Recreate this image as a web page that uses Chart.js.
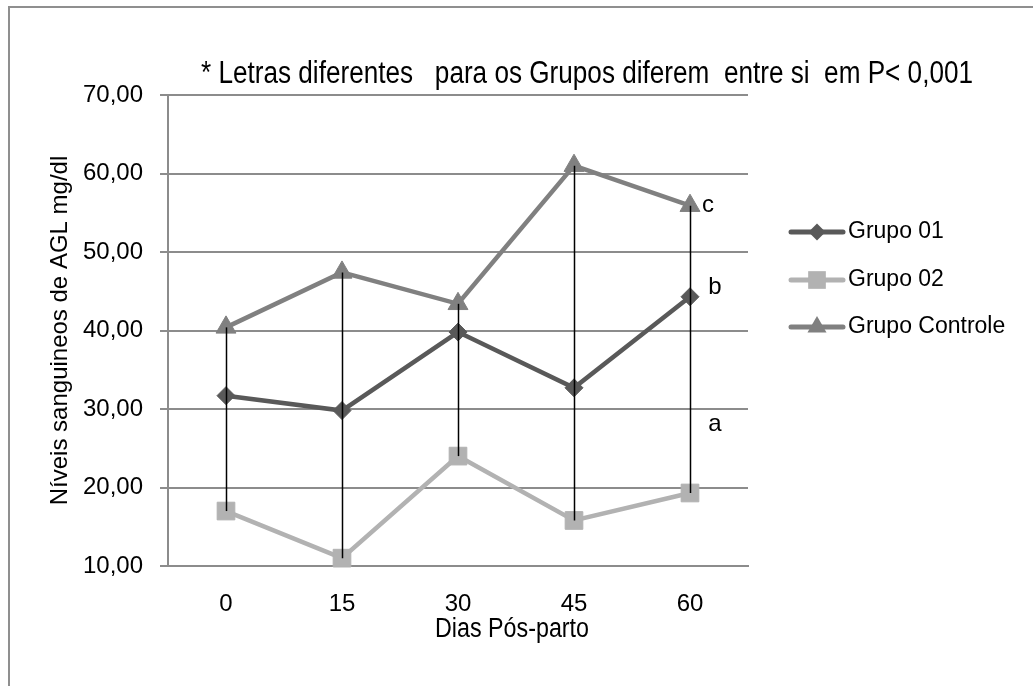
<!DOCTYPE html>
<html>
<head>
<meta charset="utf-8">
<script src="https://cdn.jsdelivr.net/npm/chart.js@4.4.0/dist/chart.umd.min.js"></script>
<style>
  html, body { margin: 0; padding: 0; background: #ffffff; overflow: hidden; }
  #wrap { position: relative; width: 1033px; height: 686px; }
</style>
</head>
<body>
<div id="wrap"><canvas id="agl_chart"></canvas></div>
<script>
// dados
let dias = ['0', '15', '30', '45', '60'];
let grupo01 = [31.7, 29.8, 39.8, 32.7, 44.3];
let grupo02 = [17.0, 11.0, 24.0, 15.8, 19.3];
let grupoControle = [40.4, 47.4, 43.4, 61.0, 55.9];
let yTicks = [10, 20, 30, 40, 50, 60, 70];
let letras = ['c', 'b', 'a'];
let letrasValor = [56.0, 45.5, 28.0];

let titulo = '* Letras diferentes   para os Grupos diferem  entre si  em P< 0,001';
let tituloX = 'Dias P\u00f3s-parto';
let tituloY = 'N\u00edveis sanguineos de AGL mg/dl';

let cores = { g01: '#595959', g02: '#b2b2b2', ctrl: '#808080', grid: '#8c8c8c' };
let fonte = "'Liberation Sans', Arial, sans-serif";

function fmt(v) {
    return v.toFixed(2).replace('.', ',');
}

function drawMarker(ctx, style, x, y, r, color) {
    ctx.save();
    ctx.fillStyle = color;
    ctx.beginPath();
    if (style === 'rectRot') {
        ctx.moveTo(x - r, y);
        ctx.lineTo(x, y - r);
        ctx.lineTo(x + r, y);
        ctx.lineTo(x, y + r);
    } else if (style === 'rect') {
        let s = r * Math.SQRT1_2;
        ctx.rect(x - s, y - s, 2 * s, 2 * s);
    } else {
        ctx.moveTo(x, y - r);
        ctx.lineTo(x + r * Math.sin(Math.PI / 3), y + r / 2);
        ctx.lineTo(x - r * Math.sin(Math.PI / 3), y + r / 2);
    }
    ctx.closePath();
    ctx.fill();
    ctx.restore();
}

let extras = {
    id: 'extras',
    beforeDraw(chart) {
        // moldura cinza (cortada a direita e embaixo)
        let ctx = chart.ctx;
        ctx.save();
        ctx.strokeStyle = '#8f8f8f';
        ctx.lineWidth = 2;
        ctx.strokeRect(9, 7, 1200, 900);
        ctx.restore();
    },
    afterDatasetsDraw(chart) {
        // linhas max-min em cada dia
        let ctx = chart.ctx;
        let xs = chart.scales.x, ys = chart.scales.y;
        ctx.save();
        ctx.strokeStyle = '#000000';
        ctx.lineWidth = 1.5;
        dias.forEach(function(d, i) {
            let vals = [grupo01[i], grupo02[i], grupoControle[i]];
            let x = Math.round(xs.getPixelForValue(i)) + 0.5;
            ctx.beginPath();
            ctx.moveTo(x, ys.getPixelForValue(Math.max(...vals)));
            ctx.lineTo(x, ys.getPixelForValue(Math.min(...vals)));
            ctx.stroke();
        });
        ctx.restore();
    },
    afterDraw(chart) {
        let ctx = chart.ctx;
        let xs = chart.scales.x, ys = chart.scales.y;
        ctx.save();
        ctx.fillStyle = '#000000';
        ctx.textBaseline = 'middle';

        // titulo (fonte estreita -> comprimido com maxWidth)
        ctx.textAlign = 'center';
        ctx.font = '31px ' + fonte;
        ctx.fillText(titulo, 587, 74, 772);

        // titulo do eixo x
        ctx.font = '27px ' + fonte;
        ctx.fillText(tituloX, 512, 630, 154);

        // letras de significancia
        ctx.font = '24px ' + fonte;
        let xLast = xs.getPixelForValue(dias.length - 1);
        letras.forEach(function(l, i) {
            ctx.fillText(l, xLast + (i === 0 ? 18 : 25), ys.getPixelForValue(letrasValor[i]));
        });

        // legenda
        let itens = [
            { label: 'Grupo 01', color: cores.g01, style: 'rectRot', r: 8.5 },
            { label: 'Grupo 02', color: cores.g02, style: 'rect', r: 12.5 },
            { label: 'Grupo Controle', color: cores.ctrl, style: 'triangle', r: 11 }
        ];
        let legY = [232, 280, 327];
        ctx.textAlign = 'left';
        ctx.font = '23px ' + fonte;
        itens.forEach(function(it, i) {
            let y = legY[i];
            ctx.strokeStyle = it.color;
            ctx.lineWidth = 5;
            ctx.lineCap = 'round';
            ctx.beginPath();
            ctx.moveTo(791, y);
            ctx.lineTo(843, y);
            ctx.stroke();
            drawMarker(ctx, it.style, 817, y, it.r, it.color);
            ctx.fillStyle = '#000000';
            ctx.fillText(it.label, 848, y);
        });
        ctx.restore();
    }
};

function serie(label, data, color, style, r) {
    return {
        label: label,
        data: data,
        borderColor: color,
        backgroundColor: color,
        borderWidth: 4.5,
        tension: 0,
        pointStyle: style,
        pointRadius: r,
        pointBackgroundColor: color,
        pointBorderColor: color,
        pointBorderWidth: 1,
        clip: false
    };
}

let config = {
    type: 'line',
    data: {
        labels: dias,
        datasets: [
            serie('Grupo 01', grupo01, cores.g01, 'rectRot', 9),
            serie('Grupo 02', grupo02, cores.g02, 'rect', 12.5),
            serie('Grupo Controle', grupoControle, cores.ctrl, 'triangle', 11.5)
        ]
    },
    options: {
        responsive: true,
        maintainAspectRatio: false,
        animation: false,
        layout: { padding: { left: 0, top: 95, right: 285, bottom: 60 } },
        plugins: {
            legend: { display: false },
            tooltip: { enabled: false },
            title: { display: false }
        },
        scales: {
            y: {
                min: 10,
                max: 70,
                afterFit: function(scale) { scale.width = 168; },
                afterBuildTicks: function(scale) {
                    scale.ticks = yTicks.map(function(v) { return { value: v }; });
                },
                grid: { color: cores.grid, lineWidth: 2, tickLength: 8, drawTicks: true },
                border: { color: cores.grid, width: 2 },
                ticks: {
                    padding: 17,
                    color: '#000000',
                    font: { family: fonte, size: 24 },
                    callback: function(v) { return fmt(v); }
                },
                title: {
                    display: true,
                    text: tituloY,
                    color: '#000000',
                    font: { family: fonte, size: 24 },
                    padding: { top: 46, bottom: 0 }
                }
            },
            x: {
                offset: true,
                afterFit: function(scale) { scale.height = 60; },
                grid: { display: false, drawTicks: false },
                border: { display: true, color: cores.grid, width: 2 },
                ticks: {
                    padding: 24,
                    color: '#000000',
                    font: { family: fonte, size: 24 }
                }
            }
        }
    },
    plugins: [extras]
};

let chart = new Chart(document.getElementById('agl_chart'), config);
</script>
</body>
</html>
